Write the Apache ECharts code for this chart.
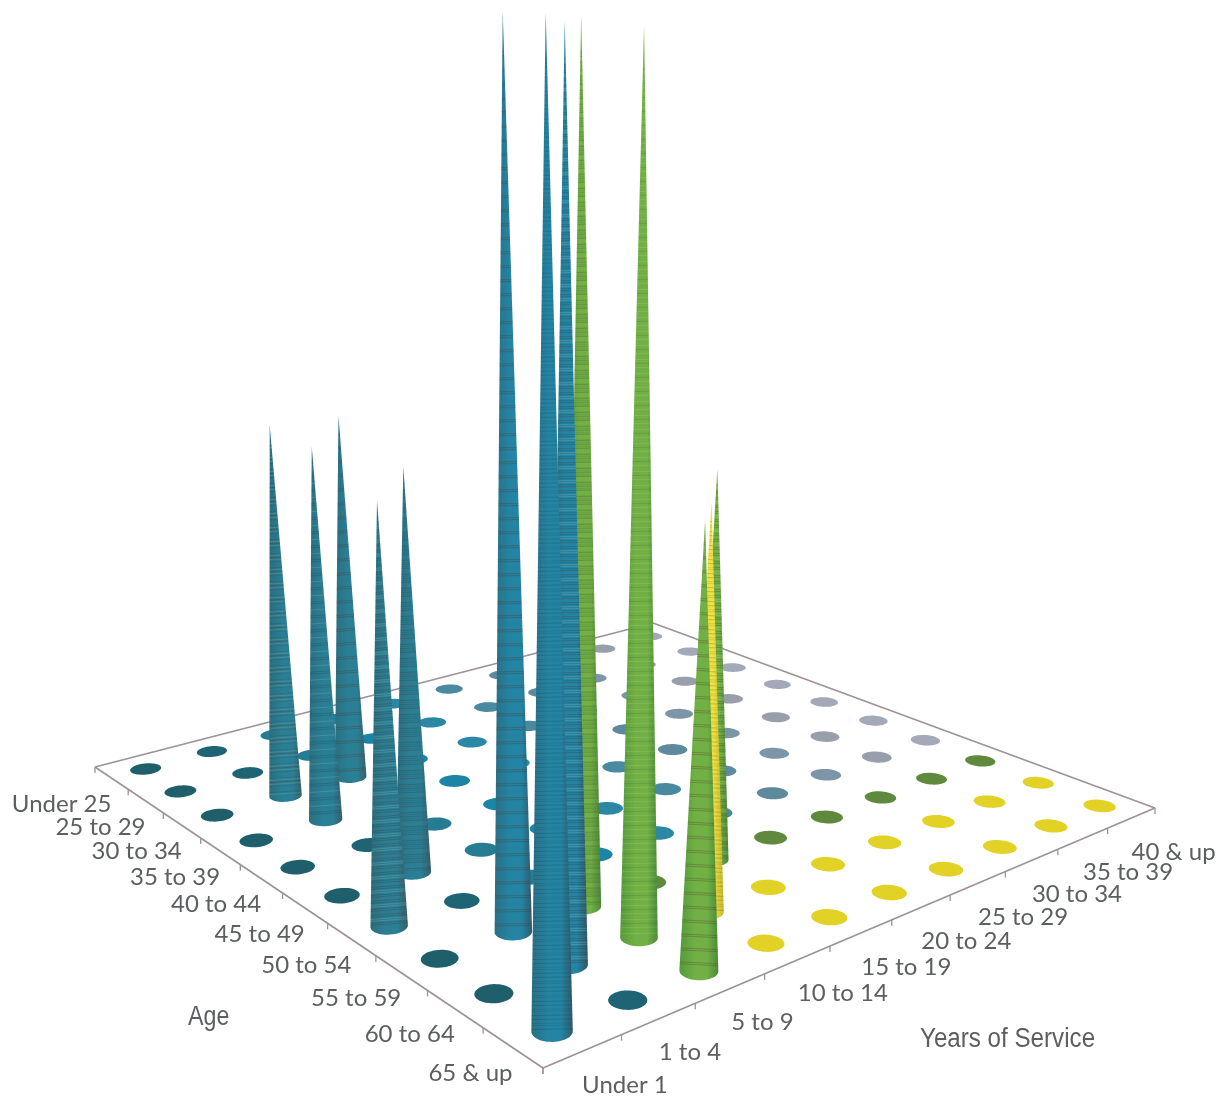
<!DOCTYPE html>
<html><head><meta charset="utf-8">
<style>html,body{margin:0;padding:0;background:#fff}#c{width:1229px;height:1098px}</style>
<script src="https://cdn.jsdelivr.net/npm/echarts@6/dist/echarts.min.js"></script></head><body><div id="c"></div>
<script>
const ages=['Under 25','25 to 29','30 to 34','35 to 39','40 to 44','45 to 49','50 to 54','55 to 59','60 to 64','65 & up'];
const years=['Under 1','1 to 4','5 to 9','10 to 14','15 to 19','20 to 24','25 to 29','30 to 34','35 to 39','40 & up'];
// rows = age, columns = years of service (relative cone height)
const underAge25=[0,0,0,0,0,0,0,0,0,0];
const age25to29=[0,0,0,0,0,0,0,0,0,0];
const age30to34=[0,47,47,0,0,0,0,0,0,0];
const age35to39=[0,46,0,0,0,0,0,0,0,0];
const age40to44=[0,0,0,0,0,0,0,0,0,0];
const age45to49=[0,47,0,0,0,0,0,0,0,0];
const age50to54=[46.5,0,0,0,0,0,0,0,0,0];
const age55to59=[0,100,99.5,0,46,0,0,0,0,0];
const age60to64=[0,99,98.5,45.5,0,0,0,0,0,0];
const age65up=[100,0,47,0,0,0,0,0,0,0];
const values=[underAge25,age25to29,age30to34,age35to39,age40to44,age45to49,age50to54,age55to59,age60to64,age65up];

const Q=[[95,767],[543,1068],[1155,808],[653,623]];
const [x0,y0]=Q[0],[x1,y1]=Q[1],[x2,y2]=Q[2],[x3,y3]=Q[3];
const dx1=x1-x2,dx2=x3-x2,dy1=y1-y2,dy2=y3-y2,sx=x0-x1+x2-x3,sy=y0-y1+y2-y3,den=dx1*dy2-dx2*dy1;
const g=(sx*dy2-sy*dx2)/den,h=(dx1*sy-sx*dy1)/den;
const A=x1-x0+g*x1,B=x3-x0+h*x3,D=y1-y0+g*y1,E=y3-y0+h*y3;
function F(u,v){const w=g*u+h*v+1;return [(A*u+B*v+x0)/w,(D*u+E*v+y0)/w];}
const depthW=(u,v)=>g*u+h*v+1;
const HEIGHT_K=7.6, LEAN=0.000137, LEAN_X=598;
const yearsNudge=[-12,-23,-22,-9,-9,-9,-9,-9,-9,-12];

const floorPalette=['#1f5f6b','#1f6474','#257d93','#1c84a4','#2a87a5','#4a8aa0','#5f8a9e','#7d95a8','#989eaa','#a3a9b8'];
const GREEN='#5f8a3e',YELLOW='#e2d225';
function zone(a,y){ if(a>=8&&y>=3) return 'y'; if(a>=7&&y>=2) return 'g'; return 't'; }
function discColor(a,y){const z=zone(a,y); if(z==='y')return YELLOW; if(z==='g')return GREEN; return floorPalette[y];}
const grad=(l,m,r)=>({type:'linear',x:0,y:0,x2:1,y2:0,colorStops:[{offset:0,color:l},{offset:.4,color:m},{offset:.72,color:m},{offset:1,color:r}]});
function coneFill(a,y){const z=zone(a,y);
 if(z==='y')return grad('#d8c828','#f0e040','#c8b828');
 if(z==='g')return grad('#559a3c','#70b044','#4a8a3a');
 return a<7&&y<3?grad('#2a6f80','#2a7f95','#355f6c'):grad('#2a6f85','#2384a3','#30596a');}

const stars=[];
for(let a=0;a<10;a++)for(let y=0;y<10;y++)stars.push([a,y,values[a][y]]);
stars.sort((p,q)=>(p[0]-p[1])-(q[0]-q[1]));

function ring(u,v,r,api){const pts=[];for(let i=0;i<48;i++){const t=i/48*2*Math.PI;pts.push(api.coord(F(u+r*Math.cos(t),v+r*Math.sin(t))));}return pts;}
function renderCell(p,api){
 const a=api.value(0),y=api.value(1),val=api.value(2),u=(a+.5)/10,v=(y+.5)/10;
 if(!val){
  const pts=ring(u,v,.0205,api);
  return {type:'group',children:[{type:'polygon',shape:{points:pts},style:{fill:discColor(a,y),stroke:null}}]};
 }
 const pts=ring(u,v,.021,api);
 let li=0,ri=0;pts.forEach((q,i)=>{if(q[0]<pts[li][0])li=i;if(q[0]>pts[ri][0])ri=i;});
 const n=pts.length,arc=[];
 let cy=0;pts.forEach(q=>cy+=q[1]);cy/=n;
 for(let i=ri;;i=(i+1)%n){arc.push(pts[i]);if(i===li)break;}
 const avg=arc.reduce((s,q)=>s+q[1],0)/arc.length;
 let bottom=arc;
 if(avg<cy){bottom=[];for(let i=ri;;i=(i-1+n)%n){bottom.push(pts[i]);if(i===li)break;}}
 const base=F(u,v),hpx=val*HEIGHT_K/depthW(u,v);
 const tip=api.coord([base[0]+(base[0]-LEAN_X)*LEAN*hpx,base[1]-hpx]);
 const L=pts[li],R=pts[ri];
 const kids=[{type:'polygon',shape:{points:bottom.concat([tip])},style:{fill:coneFill(a,y)}}];
 const step=2;
 for(let k=1;k*step<hpx*0.96;k++){
  const f=k*step/hpx;
  const m=(k*k*3+k*7+a*3+y)%7;
  const col=m===0?'rgba(90,50,40,.30)':m===2?'rgba(30,50,60,.22)':m===3?'rgba(255,225,180,.14)':m===5?'rgba(40,30,40,.12)':null;
  if(!col)continue;
  kids.push({type:'line',shape:{x1:L[0]+(tip[0]-L[0])*f,y1:L[1]+(tip[1]-L[1])*f,x2:R[0]+(tip[0]-R[0])*f,y2:R[1]+(tip[1]-R[1])*f},style:{stroke:col,lineWidth:1}});
 }
 return {type:'group',children:kids};
}

const LINE='#9c9298',TXT='#5b5f60';
const ticksAge=ages.map((_,i)=>i),ticksYears=years.map((_,i)=>i);
const edges=[[0,0,1,0],[1,0,1,1],[1,1,0,1],[0,1,0,0]];
const c=echarts.init(document.getElementById('c'),null,{renderer:'canvas'});
const hidden={show:false};
c.setOption({animation:false,grid:{left:0,right:0,top:0,bottom:0},
xAxis:{type:'value',min:0,max:1229,...hidden},yAxis:{type:'value',min:0,max:1098,inverse:true,...hidden},
series:[
 {type:'custom',clip:false,silent:true,z:1,data:edges,encode:{x:0,y:1},renderItem(p,api){
  const s=api.coord(F(api.value(0),api.value(1))),e=api.coord(F(api.value(2),api.value(3)));
  return {type:'line',shape:{x1:s[0],y1:s[1],x2:e[0],y2:e[1]},style:{stroke:LINE,lineWidth:1.6}};
 }},
 {type:'custom',clip:false,silent:true,z:1,data:ticksAge.concat([10]).map(i=>[i]),encode:{x:0},renderItem(p,api){
  const i=api.value(0),q=api.coord(F(i/10,0));
  return {type:'line',shape:{x1:q[0],y1:q[1],x2:q[0],y2:q[1]+6},style:{stroke:LINE,lineWidth:1.3}};
 }},
 {type:'custom',clip:false,silent:true,z:1,data:ticksYears.concat([10]).map(i=>[i]),encode:{x:0},renderItem(p,api){
  const i=api.value(0),q=api.coord(F(1,i/10));
  return {type:'line',shape:{x1:q[0],y1:q[1],x2:q[0],y2:q[1]+6},style:{stroke:LINE,lineWidth:1.3}};
 }},
 {type:'custom',clip:false,silent:true,z:2,data:stars,encode:{x:0,y:1},renderItem:renderCell},
 {type:'custom',clip:false,silent:true,z:3,data:ticksAge.map(i=>[i]),encode:{x:0},renderItem(p,api){
  const i=api.value(0),q=api.coord(F((i+.5)/10,0));
  return {type:'text',style:{x:q[0]+0,y:q[1]+26,text:ages[i],align:'right',verticalAlign:'middle',fill:TXT,font:'24px Lato'}};
 }},
 {type:'custom',clip:false,silent:true,z:3,data:ticksYears.map(i=>[i]),encode:{x:0},renderItem(p,api){
  const i=api.value(0),q=api.coord(F(1,(i+.5)/10));
  return {type:'text',style:{x:q[0]+54+yearsNudge[i],y:q[1]+34,text:years[i],align:'center',verticalAlign:'middle',fill:TXT,font:'24px Lato'}};
 }}
],
graphic:[
 {type:'text',left:188,top:1004,scaleX:.86,style:{text:'Age',fill:TXT,font:'27px "Liberation Sans"'}},
 {type:'text',left:920,top:1026,scaleX:.895,style:{text:'Years of Service',fill:TXT,font:'27px "Liberation Sans"'}}
]});
</script></body></html>
